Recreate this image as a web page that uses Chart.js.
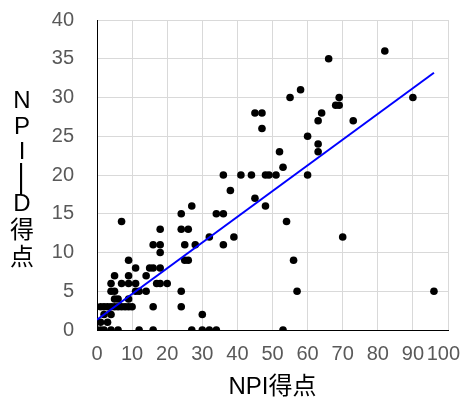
<!DOCTYPE html>
<html>
<head>
<meta charset="utf-8">
<script src="https://cdn.jsdelivr.net/npm/chart.js@4.4.1/dist/chart.umd.min.js"></script>
<style>
    html, body { margin: 0; padding: 0; background: #fff; }
</style>
</head>
<body>
<canvas id="npiChart" width="461" height="403"></canvas>
<script>
// NPI score (x) vs NPI-ID score (y), one entry per subject
const npiScores = [
    0, 1, 2, 4, 6, 12, 16, 27, 30, 32, 34, 53,
    1, 3,
    2, 4, 30,
    1, 2, 3, 4, 5, 6, 7, 8, 9, 10, 16, 24,
    5, 6, 9,
    4, 5, 11, 12, 14, 24, 57, 96,
    4, 7, 9, 11, 17, 18, 20,
    5, 9, 14,
    11, 15, 16, 18,
    9, 25, 26, 56,
    18,
    16, 18, 25, 28, 36,
    32, 39, 70,
    18, 24, 26,
    7, 54,
    24, 34, 36,
    27, 48,
    45,
    38,
    36, 41, 44, 48, 49, 51, 60,
    53,
    52, 63,
    63,
    60,
    47,
    63, 73,
    45, 47, 64,
    68, 69,
    55, 69, 90,
    58,
    66,
    82
];
const npiIdScores = [
    0, 0, 0, 0, 0, 0, 0, 0, 0, 0, 0, 0,
    1, 1,
    2, 2, 2,
    3, 3, 3, 3, 3, 3, 3, 3, 3, 3, 3, 3,
    4, 4, 4,
    5, 5, 5, 5, 5, 5, 5, 5,
    6, 6, 6, 6, 6, 6, 6,
    7, 7, 7,
    8, 8, 8, 8,
    9, 9, 9, 9,
    10,
    11, 11, 11, 11, 11,
    12, 12, 12,
    13, 13, 13,
    14, 14,
    15, 15, 15,
    16, 16,
    17,
    18,
    20, 20, 20, 20, 20, 20, 20,
    21,
    23, 23,
    24,
    25,
    26,
    27, 27,
    28, 28, 28,
    29, 29,
    30, 30, 30,
    31,
    35,
    36
];

// fitted trend line
const trendX = [0, 96];
const trendY = [1.33, 33.2];

const xTicks = [0, 10, 20, 30, 40, 50, 60, 70, 80, 90, 100];
const yTicks = [0, 5, 10, 15, 20, 25, 30, 35, 40];

const yTitleChars = ['N', 'P', 'I', '—', 'D', '得', '点'];

const points = npiScores.map((x, i) => ({ x: x, y: npiIdScores[i] }));
const trend = trendX.map((x, i) => ({ x: x, y: trendY[i] }));

const labelFont = "'Liberation Sans', Arial, 'Noto Sans CJK JP', sans-serif";

// stacked (vertical) y axis title + x tick labels kept inside the canvas
const textPlugin = {
    id: 'axisText',
    afterDraw(chart) {
        const c = chart.ctx;
        c.save();

        // x tick labels
        const xs = chart.scales.x;
        c.fillStyle = '#595959';
        c.font = "20px " + labelFont;
        c.textAlign = 'center';
        c.textBaseline = 'middle';
        xTicks.forEach(v => {
            const label = String(v);
            const w = c.measureText(label).width;
            let px = xs.getPixelForValue(v);
            px = Math.min(px, chart.width - 1 - w / 2);
            c.fillText(label, px, 354);
        });

        // y title, one character under the other
        const yPositions = [101, 127, 152, 179, 204, 229, 256];
        c.fillStyle = '#000';
        yTitleChars.forEach((ch, i) => {
            if (ch === '—') {
                c.save();
                c.translate(22, yPositions[i]);
                c.rotate(Math.PI / 2);
                c.font = "32px 'Liberation Sans', Arial, sans-serif";
                c.fillText(ch, 0, 0);
                c.restore();
            } else if (ch === '得' || ch === '点') {
                c.font = "24px 'Noto Sans CJK JP', sans-serif";
                c.fillText(ch, 22, yPositions[i]);
            } else {
                c.font = "24px 'Liberation Sans', Arial, sans-serif";
                c.fillText(ch, 22, yPositions[i]);
            }
        });
        c.restore();
    }
};

const ctx = document.getElementById('npiChart').getContext('2d');
const npiChart = new Chart(ctx, {
    type: 'scatter',
    data: {
        datasets: [
            {
                type: 'line',
                label: 'trend',
                data: trend,
                borderColor: '#0000ff',
                borderWidth: 2,
                pointRadius: 0,
                fill: false,
                order: 0
            },
            {
                label: 'subjects',
                data: points,
                backgroundColor: '#000',
                borderColor: '#000',
                pointRadius: 3.8,
                pointBorderWidth: 0,
                order: 1
            }
        ]
    },
    options: {
        responsive: false,
        animation: false,
        layout: {
            padding: { left: 0, right: 13, top: 20, bottom: 0 }
        },
        scales: {
            x: {
                type: 'linear',
                min: 0,
                max: 100,
                afterBuildTicks: (scale) => { scale.ticks = xTicks.map(v => ({ value: v })); },
                afterFit: (scale) => {
                    scale.height = 73;
                    scale.paddingLeft = 0;
                    scale.paddingRight = 0;
                },
                grid: { color: '#d9d9d9', drawTicks: false },
                border: { color: '#000', width: 1 },
                ticks: { display: false },
                title: {
                    display: true,
                    text: 'NPI得点',
                    color: '#000',
                    padding: { top: 4, bottom: 1 },
                    font: { size: 24, family: labelFont }
                }
            },
            y: {
                type: 'linear',
                min: 0,
                max: 40,
                afterBuildTicks: (scale) => { scale.ticks = yTicks.map(v => ({ value: v })); },
                afterFit: (scale) => {
                    scale.width = 97;
                    scale.paddingTop = 0;
                    scale.paddingBottom = 0;
                },
                grid: { color: '#d9d9d9', drawTicks: false },
                border: { color: '#000', width: 1 },
                ticks: {
                    color: '#595959',
                    padding: 23,
                    font: { size: 20, family: labelFont }
                }
            }
        },
        plugins: {
            legend: { display: false },
            tooltip: { enabled: false }
        }
    },
    plugins: [textPlugin]
});
</script>
</body>
</html>
